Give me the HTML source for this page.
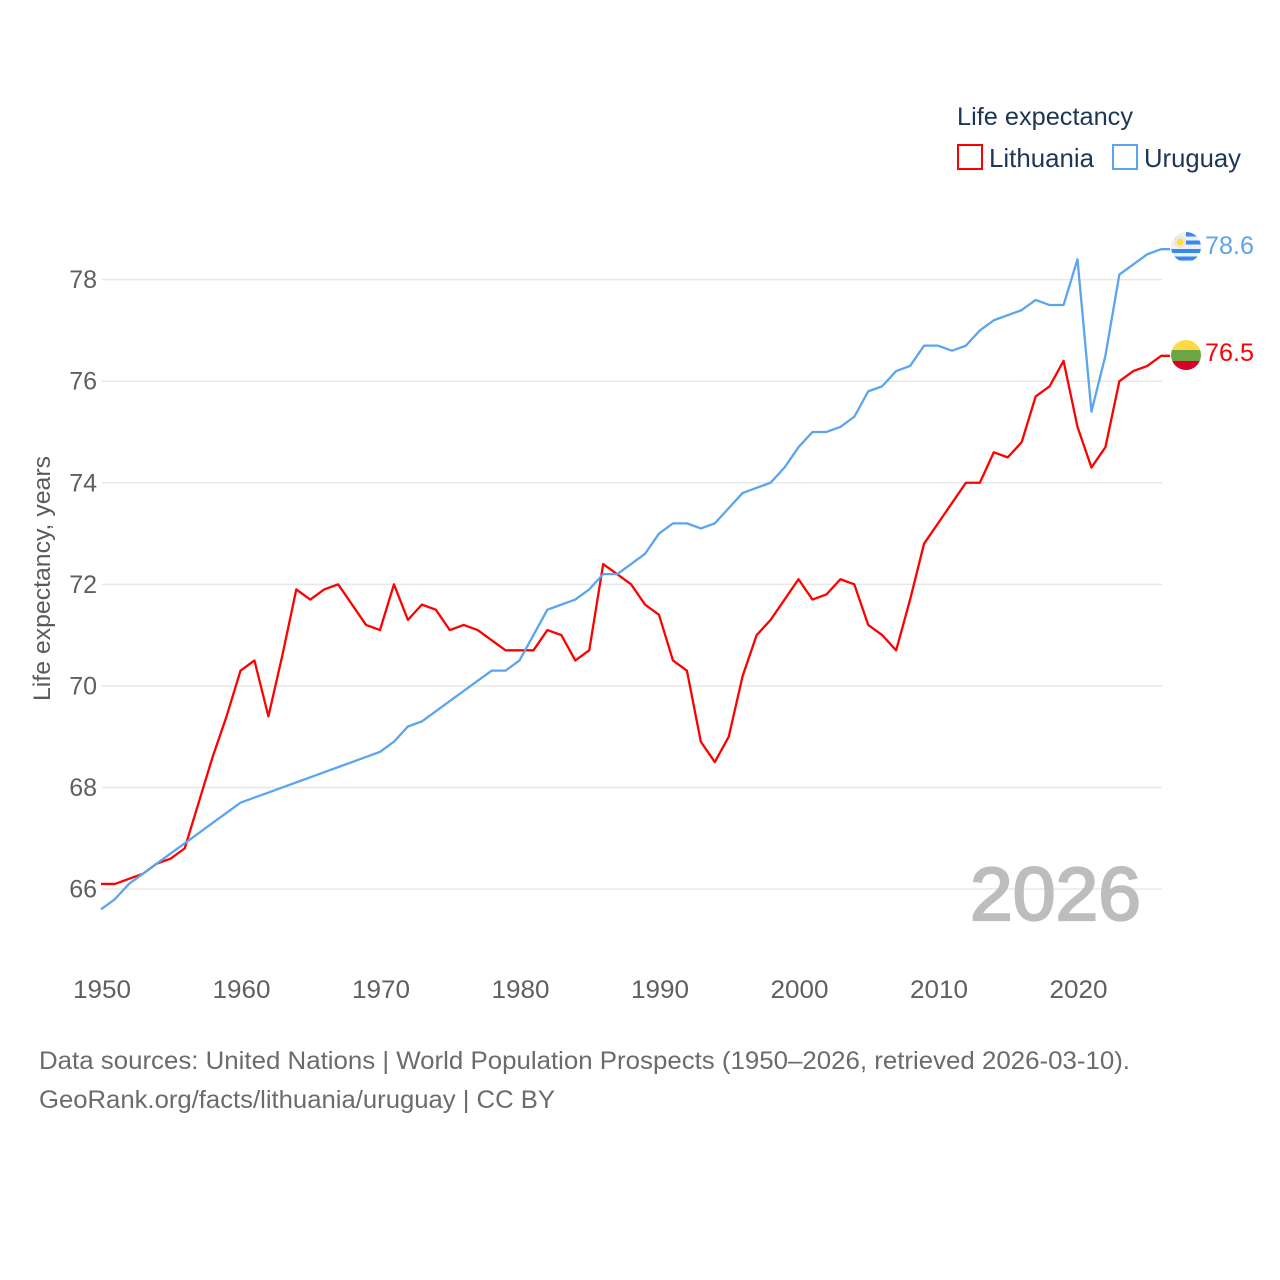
<!DOCTYPE html>
<html lang="en">
<head>
<meta charset="utf-8">
<title>Life expectancy: Lithuania and Uruguay</title>
<style>
html,body{margin:0;padding:0;background:#fff;}
svg{display:block;}
text{font-family:"Liberation Sans",sans-serif;}
</style>
</head>
<body>
<svg id="chart" xmlns="http://www.w3.org/2000/svg" width="1280" height="1280" viewBox="0 0 1280 1280">
  <rect width="1280" height="1280" fill="#ffffff"/>
  <g id="grid"></g>
  <g id="yticks"></g>
  <g id="xticks"></g>
  <text transform="translate(50,701) rotate(-90)" font-size="24" fill="#5b5b5b" textLength="245" lengthAdjust="spacingAndGlyphs">Life expectancy, years</text>
  <text x="970" y="920" font-size="75" font-weight="400" fill="#bdbdbd" stroke="#bdbdbd" stroke-width="2.2" textLength="171" lengthAdjust="spacingAndGlyphs">2026</text>
  <g id="series"></g>

  <g>
    <text x="957" y="125" font-size="25" fill="#1d3557" textLength="176" lengthAdjust="spacingAndGlyphs">Life expectancy</text>
    <rect x="958" y="145" width="24" height="24" fill="none" stroke="#ff0000" stroke-width="2"/>
    <text x="989" y="167" font-size="26" fill="#1d3557" textLength="105" lengthAdjust="spacingAndGlyphs">Lithuania</text>
    <rect x="1113" y="145" width="24" height="24" fill="none" stroke="#5ba4ee" stroke-width="2"/>
    <text x="1144" y="167" font-size="26" fill="#1d3557" textLength="97" lengthAdjust="spacingAndGlyphs">Uruguay</text>
  </g>

  <defs>
    <clipPath id="uy-clip"><circle cx="1186" cy="247" r="15"/></clipPath>
    <clipPath id="lt-clip"><circle cx="1186" cy="355" r="15"/></clipPath>
  </defs>
  <g clip-path="url(#uy-clip)">
    <rect x="1171" y="232" width="30" height="30" fill="#f0f0f0"/>
    <rect x="1186" y="232" width="15" height="4.5" fill="#338af3"/>
    <rect x="1186" y="240.5" width="15" height="4" fill="#338af3"/>
    <rect x="1171" y="249" width="30" height="4" fill="#338af3"/>
    <rect x="1171" y="256.5" width="30" height="4" fill="#338af3"/>
    <circle cx="1180" cy="242" r="3.5" fill="#ffda44"/>
    <circle cx="1180" cy="242" r="5" fill="none" stroke="#f4b8a8" stroke-width="1" stroke-dasharray="1 1.2"/>
  </g>
  <g clip-path="url(#lt-clip)">
    <rect x="1171" y="340" width="30" height="10" fill="#ffda44"/>
    <rect x="1171" y="350" width="30" height="11" fill="#6da544"/>
    <rect x="1171" y="361" width="30" height="10" fill="#d80027"/>
  </g>
  <text x="1205" y="254" font-size="25" fill="#5ba4ee" textLength="49" lengthAdjust="spacingAndGlyphs">78.6</text>
  <text x="1205" y="361" font-size="25" fill="#ff0000" textLength="49" lengthAdjust="spacingAndGlyphs">76.5</text>

  <g>
    <text x="39" y="1069" font-size="25" fill="#6b6b6b" textLength="1091" lengthAdjust="spacingAndGlyphs">Data sources: United Nations | World Population Prospects (1950–2026, retrieved 2026-03-10).</text>
    <text x="39" y="1108" font-size="25" fill="#6b6b6b" textLength="516" lengthAdjust="spacingAndGlyphs">GeoRank.org/facts/lithuania/uruguay | CC BY</text>
  </g>
</svg>
<script>
const startYear = 1950;
const yTickValues = [66, 68, 70, 72, 74, 76, 78];
const xTickValues = [1950, 1960, 1970, 1980, 1990, 2000, 2010, 2020];
const lithuaniaValues = [
  66.1,66.1,66.2,66.3,66.5,66.6,66.8,67.7,68.6,69.4,
  70.3,70.5,69.4,70.6,71.9,71.7,71.9,72.0,71.6,71.2,
  71.1,72.0,71.3,71.6,71.5,71.1,71.2,71.1,70.9,70.7,
  70.7,70.7,71.1,71.0,70.5,70.7,72.4,72.2,72.0,71.6,
  71.4,70.5,70.3,68.9,68.5,69.0,70.2,71.0,71.3,71.7,
  72.1,71.7,71.8,72.1,72.0,71.2,71.0,70.7,71.7,72.8,
  73.2,73.6,74.0,74.0,74.6,74.5,74.8,75.7,75.9,76.4,
  75.1,74.3,74.7,76.0,76.2,76.3,76.5
];
const uruguayValues = [
  65.6,65.8,66.1,66.3,66.5,66.7,66.9,67.1,67.3,67.5,
  67.7,67.8,67.9,68.0,68.1,68.2,68.3,68.4,68.5,68.6,
  68.7,68.9,69.2,69.3,69.5,69.7,69.9,70.1,70.3,70.3,
  70.5,71.0,71.5,71.6,71.7,71.9,72.2,72.2,72.4,72.6,
  73.0,73.2,73.2,73.1,73.2,73.5,73.8,73.9,74.0,74.3,
  74.7,75.0,75.0,75.1,75.3,75.8,75.9,76.2,76.3,76.7,
  76.7,76.6,76.7,77.0,77.2,77.3,77.4,77.6,77.5,77.5,
  78.4,75.4,76.5,78.1,78.3,78.5,78.6
];

const SVG_NS = 'http://www.w3.org/2000/svg';
function xScale(year) { return 101 + (year - 1950) * 13.95; }
function yScale(value) { return 889 - (value - 66) * 50.78; }

const gridGroup = document.getElementById('grid');
const yTickGroup = document.getElementById('yticks');
const xTickGroup = document.getElementById('xticks');
const seriesGroup = document.getElementById('series');

yTickValues.forEach(function (value) {
  const line = document.createElementNS(SVG_NS, 'line');
  
  
  line.setAttribute('x1', 102);
  line.setAttribute('x2', 1162);
  line.setAttribute('y1', yScale(value));
  line.setAttribute('y2', yScale(value));
  line.setAttribute('stroke', '#e8e8e8');
  line.setAttribute('stroke-width', 1.5);
  gridGroup.appendChild(line);

  const label = document.createElementNS(SVG_NS, 'text');
  
  
  label.setAttribute('x', 97);
  label.setAttribute('y', yScale(value) + 8.5);
  label.setAttribute('text-anchor', 'end');
  label.setAttribute('font-size', 25);
  label.setAttribute('fill', '#5f5f5f');
  label.textContent = value;
  yTickGroup.appendChild(label);
});

xTickValues.forEach(function (year) {
  const label = document.createElementNS(SVG_NS, 'text');
  
  
  label.setAttribute('x', xScale(year) + 1);
  label.setAttribute('y', 998);
  label.setAttribute('text-anchor', 'middle');
  label.setAttribute('font-size', 25);
  label.setAttribute('textLength', 58);
  label.setAttribute('lengthAdjust', 'spacingAndGlyphs');
  label.setAttribute('fill', '#5f5f5f');
  label.textContent = year;
  xTickGroup.appendChild(label);
});

function linePoints(values) {
  const pts = values.map(function (value, i) {
    return xScale(startYear + i).toFixed(2) + ',' + yScale(value).toFixed(2);
  });
  // short flat connector from the last data point toward the flag
  pts.push('1170,' + yScale(values[values.length - 1]).toFixed(2));
  return pts.join(' ');
}

const lithuaniaLine = document.createElementNS(SVG_NS, 'polyline');


lithuaniaLine.setAttribute('points', linePoints(lithuaniaValues));
lithuaniaLine.setAttribute('fill', 'none');
lithuaniaLine.setAttribute('stroke', '#ff0000');
lithuaniaLine.setAttribute('stroke-width', 2.3);
lithuaniaLine.setAttribute('stroke-linejoin', 'round');
seriesGroup.appendChild(lithuaniaLine);

const uruguayLine = document.createElementNS(SVG_NS, 'polyline');


uruguayLine.setAttribute('points', linePoints(uruguayValues));
uruguayLine.setAttribute('fill', 'none');
uruguayLine.setAttribute('stroke', '#5ba4ee');
uruguayLine.setAttribute('stroke-width', 2.3);
uruguayLine.setAttribute('stroke-linejoin', 'round');
seriesGroup.appendChild(uruguayLine);
</script>
</body>
</html>
